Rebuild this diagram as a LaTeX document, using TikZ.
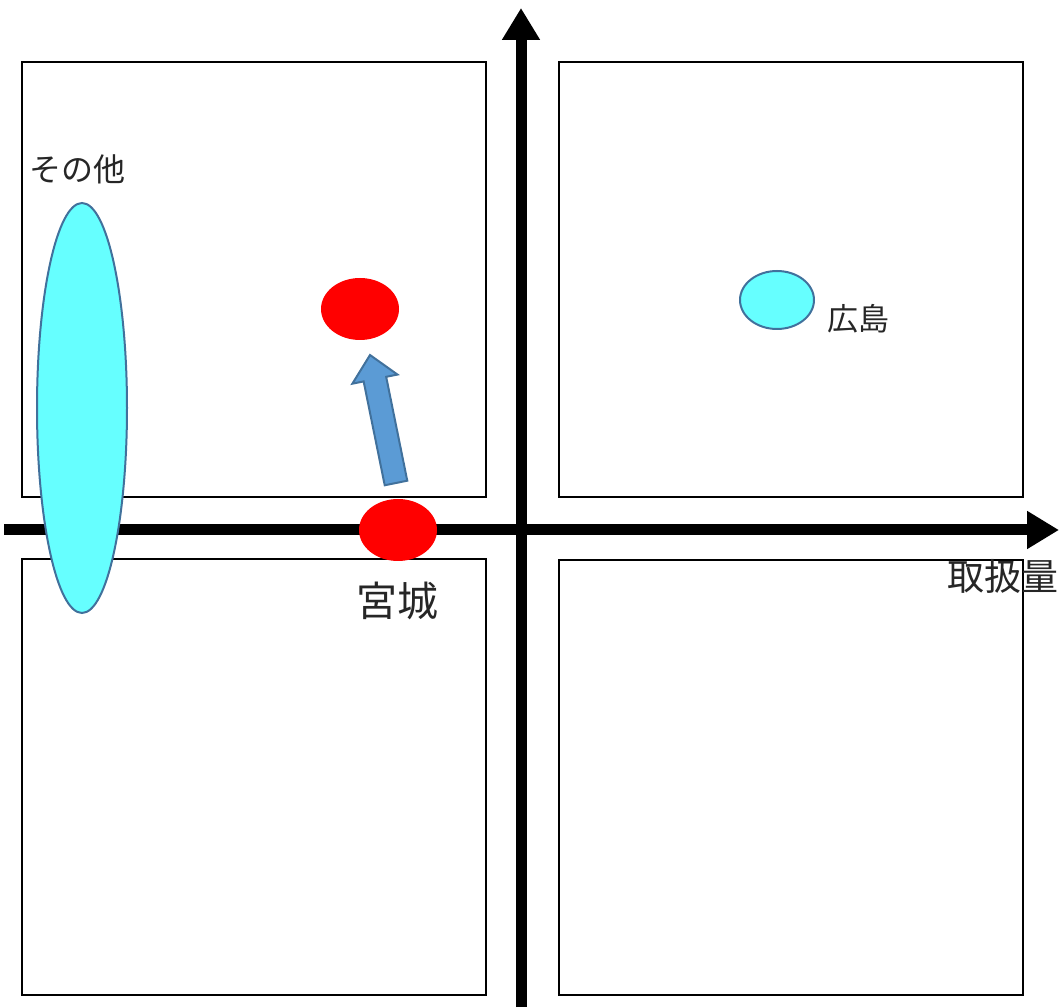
\documentclass[tikz,border=0pt]{standalone}
\usepackage{fontspec}
\newfontfamily\jp{Noto Sans CJK JP}
\usetikzlibrary{arrows.meta,shapes.geometric}
\definecolor{cyanfill}{HTML}{66FFFF}
\definecolor{edgeblue}{HTML}{41719C}
\definecolor{arrowblue}{HTML}{5B9BD5}
\begin{document}
\begin{tikzpicture}[x=1pt,y=1pt,
  quad/.style={draw=black,line width=2pt},
  cyanell/.style={ellipse,draw=edgeblue,fill=cyanfill,line width=2pt,inner sep=0pt},
  redell/.style={ellipse,fill=red,inner sep=0pt,minimum width=78pt,minimum height=62pt},
  axis/.style={line width=11pt,-{Triangle[length=32pt,width=36pt]}},
  lbl/.style={inner sep=0pt,text=black!85}]
\useasboundingbox (0,0) rectangle (1059,1007);
% quadrant boxes
\draw[quad] (22,510) rectangle (486,945);
\draw[quad] (559,510) rectangle (1023,945);
\draw[quad] (22,12) rectangle (486,448);
\draw[quad] (559,12) rectangle (1023,447);
% axes
\coordinate (xs) at (4,477);
\coordinate (xe) at (1059,477);
\coordinate (ys) at (521,0);
\coordinate (ye) at (521,999);
\draw[axis] (xs) -- (xe);
\draw[axis] (ys) -- (ye);
% ellipses
\node[cyanell,minimum width=90pt,minimum height=410pt] (other) at (82,599) {};
\node[redell] (red1) at (360,698) {};
\node[redell] (red2) at (398,477) {};
\node[cyanell,minimum width=74pt,minimum height=58pt] (hiroell) at (777,707) {};
% blue arrow
\begin{scope}[shift={(396,524)},rotate=101.48]
\draw[fill=arrowblue,draw=edgeblue,line width=2pt,line join=miter]
 (0,-11.5)--(106,-11.5)--(106,-23)--(130.6,0)--(106,23)--(106,11.5)--(0,11.5)--cycle;
\end{scope}
% labels
\node[lbl,font=\jp\fontsize{32}{32}\selectfont] (sonota) at (77,838) {その他};
\node[lbl,font=\jp\fontsize{31}{31}\selectfont] (hiro) at (858,688) {広島};
\node[lbl,font=\jp\fontsize{41}{41}\selectfont] (miyagi) at (397,406) {宮城};
\node[lbl,font=\jp\fontsize{37}{37}\selectfont] (tori) at (1003,431) {取扱量};
\end{tikzpicture}
\end{document}
